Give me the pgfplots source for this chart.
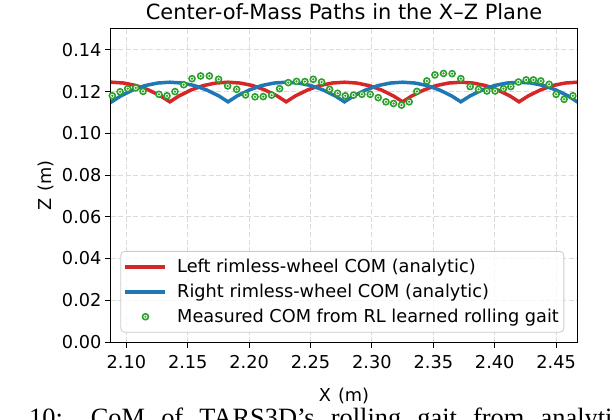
\documentclass[border=0pt]{standalone}
\usepackage{fontspec}
\setmainfont{DejaVu Sans}
\newfontfamily\capfont{Liberation Serif}
\usepackage{pgfplots}
\pgfplotsset{compat=1.18}
\definecolor{mplred}{HTML}{D62728}
\definecolor{mplblue}{HTML}{1F77B4}
\definecolor{mplgreen}{HTML}{2CA02C}
% ring with a dot in the middle
\pgfdeclareplotmark{ringdot}{%
  \begin{pgfscope}\pgfsetfillcolor{white}%
  \pgfpathcircle{\pgfpointorigin}{\pgfplotmarksize}\pgfusepathqfillstroke\end{pgfscope}%
  \pgfpathcircle{\pgfpointorigin}{0.42\pgfplotmarksize}\pgfusepathqfill}
\newcommand\lab{\fontsize{17.8}{21}\selectfont}
\begin{document}
\begin{tikzpicture}
\useasboundingbox (-111bp,-78bp) rectangle (501bp,342bp);
\begin{axis}[
  scale only axis, width=466bp, height=313bp,
  xmin=2.0875, xmax=2.4670, ymin=0, ymax=0.15,
  xtick={2.10,2.15,2.20,2.25,2.30,2.35,2.40,2.45},
  ytick={0,0.02,0.04,0.06,0.08,0.10,0.12,0.14},
  scaled ticks=false,
  xticklabel style={yshift=-4bp, /pgf/number format/.cd, fixed, fixed zerofill, precision=2, assume math mode=true},
  yticklabel style={/pgf/number format/.cd, fixed, fixed zerofill, precision=2, assume math mode=true},
  tick label style={font=\lab},
  label style={font=\lab},
  xlabel style={yshift=-12bp},
  ylabel style={yshift=1bp},
  title style={font=\fontsize{21}{25}\selectfont},
  tick align=outside, tick pos=left,
  major tick length=6bp,
  every tick/.style={black, line width=1bp},
  axis line style={line width=1bp},
  grid=major,
  major grid style={dash pattern=on 5bp off 2.5bp, line width=0.9bp, color=black!14},
  xlabel={X\hspace{0.4em}(m)}, ylabel={Z\hspace{0.4em}(m)},
  title={Center-of-Mass Paths in the X–Z Plane},
  legend cell align=left,
  legend image code/.code={\draw[mark repeat=2, mark phase=2, #1] plot coordinates {(0bp,0bp) (20bp,0bp) (40bp,0bp)}; \path (48bp,0bp);},
  legend style={at={(0.02,0.03)}, anchor=south west, font=\lab,
    draw=black!20, line width=0.8bp, rounded corners=4bp, inner ysep=6bp,
    fill=white, fill opacity=0.8, text opacity=1, row sep=6bp},
]
\addplot[mplred, line width=3.5bp] coordinates {
(2.078,0.1241)(2.088,0.1245)(2.098,0.1241)(2.108,0.1229)(2.118,0.1208)(2.128,0.1179)(2.1354,0.1151)
(2.1428,0.1179)(2.1528,0.1208)(2.1628,0.1229)(2.1728,0.1241)(2.1828,0.1245)(2.1928,0.1241)(2.2028,0.1229)(2.2128,0.1208)(2.2228,0.1179)(2.2302,0.1151)
(2.2376,0.1179)(2.2476,0.1208)(2.2576,0.1229)(2.2676,0.1241)(2.2776,0.1245)(2.2876,0.1241)(2.2976,0.1229)(2.3076,0.1208)(2.3176,0.1179)(2.3250,0.1151)
(2.3324,0.1179)(2.3424,0.1208)(2.3524,0.1229)(2.3624,0.1241)(2.3724,0.1245)(2.3824,0.1241)(2.3924,0.1229)(2.4024,0.1208)(2.4124,0.1179)(2.4198,0.1151)
(2.4272,0.1179)(2.4372,0.1208)(2.4472,0.1229)(2.4572,0.1241)(2.4672,0.1245)(2.4772,0.1241)
};
\addlegendentry{Left rimless-wheel COM (analytic)}
\addplot[mplblue, line width=3.5bp] coordinates {
(2.078,0.1187)(2.088,0.1151)
(2.0954,0.1179)(2.1054,0.1208)(2.1154,0.1229)(2.1254,0.1241)(2.1354,0.1245)(2.1454,0.1241)(2.1554,0.1229)(2.1654,0.1208)(2.1754,0.1179)(2.1828,0.1151)
(2.1902,0.1179)(2.2002,0.1208)(2.2102,0.1229)(2.2202,0.1241)(2.2302,0.1245)(2.2402,0.1241)(2.2502,0.1229)(2.2602,0.1208)(2.2702,0.1179)(2.2776,0.1151)
(2.2850,0.1179)(2.2950,0.1208)(2.3050,0.1229)(2.3150,0.1241)(2.3250,0.1245)(2.3350,0.1241)(2.3450,0.1229)(2.3550,0.1208)(2.3650,0.1179)(2.3724,0.1151)
(2.3798,0.1179)(2.3898,0.1208)(2.3998,0.1229)(2.4098,0.1241)(2.4198,0.1245)(2.4298,0.1241)(2.4398,0.1229)(2.4498,0.1208)(2.4598,0.1179)(2.4672,0.1151)(2.4772,0.1179)
};
\addlegendentry{Right rimless-wheel COM (analytic)}
\addplot[only marks, mark=ringdot, mark size=3bp, line width=1.6bp, draw=mplgreen, fill=mplgreen] coordinates {
(2.0886,0.1180)(2.0949,0.1199)(2.1011,0.1214)(2.1076,0.1218)(2.1136,0.1201)
(2.1266,0.1187)(2.1331,0.1180)(2.1396,0.1200)(2.1467,0.1233)(2.1535,0.1262)
(2.1605,0.1275)(2.1676,0.1275)(2.1751,0.1259)(2.1825,0.1227)(2.1898,0.1211)
(2.1971,0.1184)(2.2048,0.1175)(2.2115,0.1176)(2.2183,0.1183)(2.2248,0.1214)
(2.2319,0.1243)(2.2386,0.1249)(2.2454,0.1248)(2.2522,0.1259)(2.2590,0.1246)
(2.2655,0.1211)(2.2720,0.1192)(2.2783,0.1180)(2.2850,0.1183)(2.2918,0.1187)
(2.2986,0.1187)(2.3051,0.1171)(2.3114,0.1151)(2.3176,0.1143)(2.3241,0.1135)
(2.3303,0.1151)(2.3366,0.1201)(2.3447,0.1251)(2.3513,0.1280)(2.3583,0.1287)
(2.3653,0.1286)(2.3724,0.1262)(2.3800,0.1224)(2.3868,0.1211)(2.3936,0.1203)
(2.4003,0.1203)(2.4071,0.1214)(2.4131,0.1224)(2.4193,0.1246)(2.4256,0.1256)
(2.4315,0.1256)(2.4375,0.1251)(2.4443,0.1235)(2.4500,0.1187)(2.4565,0.1163)
(2.4636,0.1180)
};
\addlegendentry{Measured COM from RL learned rolling gait}
\end{axis}
\node[anchor=base east, inner sep=0pt, font=\capfont\fontsize{26.5}{30}\selectfont] at (-104bp,-84.5bp) {Fig.};
\node[anchor=base west, inner sep=0pt, font=\capfont\fontsize{26.5}{30}\selectfont] at (-82bp,-84.5bp) {\makebox[595bp][s]{10: CoM of TARS3D’s rolling gait from analytic}};
\end{tikzpicture}
\end{document}
